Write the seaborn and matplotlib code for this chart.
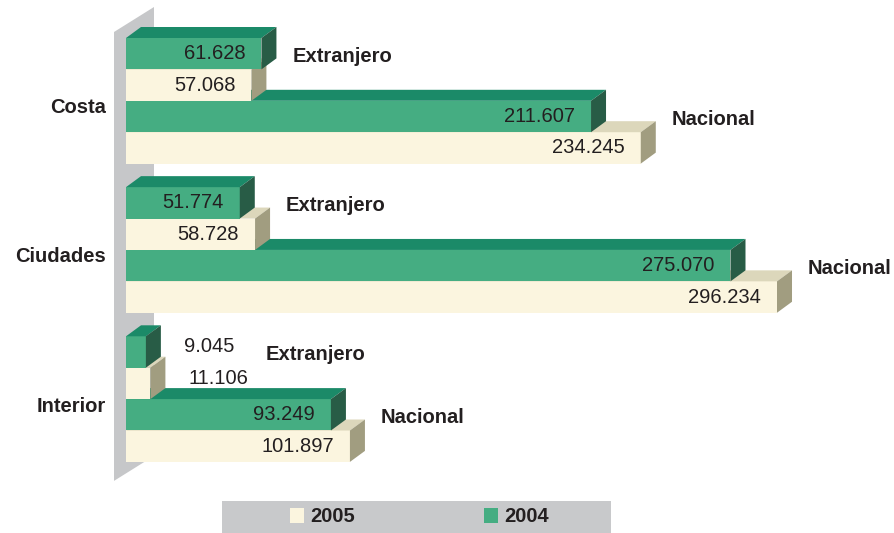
import numpy as np
import pandas as pd
import matplotlib.pyplot as plt
import seaborn as sns
from matplotlib.patches import Polygon, Patch, Rectangle
from matplotlib.transforms import offset_copy

# data (viajeros, los puntos son separador de miles)
categories = ['Costa', 'Ciudades', 'Interior']
origins = ['Extranjero', 'Nacional']
years = ['2004', '2005']
extranjero_2004 = [61628, 51774, 9045]
extranjero_2005 = [57068, 58728, 11106]
nacional_2004 = [211607, 275070, 93249]
nacional_2005 = [234245, 296234, 101897]

front = {'2004': '#45ad82', '2005': '#fbf5df'}
top_col = {'2004': '#1b8a68', '2005': '#dcd7bb'}
side_col = {'2004': '#285c46', '2005': '#a19d80'}
txt = '#231f20'
FS = 14.5
GROUP_STEP = 4.75
DX, DY = 15, 11  # profundidad 3D en pixeles

rows = []
series = [('Extranjero', '2004', extranjero_2004), ('Extranjero', '2005', extranjero_2005),
          ('Nacional', '2004', nacional_2004), ('Nacional', '2005', nacional_2005)]
for g, cat in enumerate(categories):
    for k, (origin, year, vals) in enumerate(series):
        rows.append({'cat': cat, 'origin': origin, 'year': year,
                     'value': vals[g], 'pos': g * GROUP_STEP + k})
df = pd.DataFrame(rows)

sns.set_style('white')
plt.rcParams['font.family'] = ['Liberation Sans', 'DejaVu Sans']

fig = plt.figure(figsize=(8.95, 5.33), dpi=100)
W, H = 895, 533
x0_px = 126
ax = fig.add_axes([x0_px / W, 0, (W - x0_px) / W, 1])

sns.barplot(data=df, x='value', y='pos', hue='year', hue_order=years, palette=front,
            orient='y', native_scale=True, dodge=False, width=1, errorbar=None,
            saturation=1, linewidth=0, legend=False, ax=ax)

px_per_k = 2.1976 / 1000
ax.set_xlim(0, (W - x0_px) / px_per_k)
unit = 31.4
first_c = 53.7
ax.set_ylim((H - first_c) / unit, -first_c / unit)
for s in ax.spines.values():
    s.set_visible(False)
ax.set_xticks([])
ax.set_xlabel('')
ax.set_ylabel('')
ax.set_yticks([g * GROUP_STEP + 1.66 for g in range(len(categories))])
ax.set_yticklabels(categories, fontsize=FS, fontweight='bold', color=txt)
ax.tick_params(axis='y', length=0, pad=14.4)

# conversion pixeles -> datos
o = ax.transData.transform((0, 0))
ppx = ax.transData.transform((1, 0))[0] - o[0]
ppy = ax.transData.transform((0, 1))[1] - o[1]
dx = DX / ppx
dy = DY / ppy

# caras 3D
for p in list(ax.patches):
    yc = p.get_y() + p.get_height() / 2
    row = df.iloc[(df['pos'] - yc).abs().argmin()]
    yr = row['year']
    z = 50 - row['pos']
    p.set_zorder(z)
    x0 = p.get_x()
    x1 = x0 + p.get_width()
    t = min(p.get_y(), p.get_y() + p.get_height())
    b = max(p.get_y(), p.get_y() + p.get_height())
    ax.add_patch(Polygon([(x0, t), (x1, t), (x1 + dx, t + dy), (x0 + dx, t + dy)],
                         closed=True, facecolor=top_col[yr], linewidth=0, zorder=z))
    ax.add_patch(Polygon([(x1, t), (x1 + dx, t + dy), (x1 + dx, b + dy), (x1, b)],
                         closed=True, facecolor=side_col[yr], linewidth=0, zorder=z))

# pared gris
ytop = df['pos'].min() - 0.5
ybot = df['pos'].max() + 0.5
wl, wr = -12 / ppx, 28 / ppx
wy1, wy2 = -6 / ppy, 19 / ppy
wb = 25 / ppy
ax.add_patch(Polygon([(wl, ytop - wy1), (wr, ytop - wy1 + wb), (wr, ybot - wy2 + wb), (wl, ybot - wy2)],
                     closed=True, facecolor='#c6c7c9', linewidth=0, zorder=1, clip_on=False))

# etiquetas de valores
for _, r in df.iterrows():
    lab = f"{r['value']:,}".replace(',', '.')
    if r['value'] < 30000:
        tr = offset_copy(ax.transData, fig=fig, x=DX + 23, y=5, units='dots')
        ax.text(r['value'], r['pos'], lab, transform=tr, ha='left', va='center',
                fontsize=FS, color=txt, zorder=100)
    else:
        tr = offset_copy(ax.transData, fig=fig, x=-16, y=0, units='dots')
        ax.text(r['value'], r['pos'], lab, transform=tr, ha='right', va='center',
                fontsize=FS, color=txt, zorder=100)

# etiquetas Extranjero / Nacional
for (cat, origin), sub in df.groupby(['cat', 'origin'], sort=False):
    xmax = sub['value'].max()
    off = 115 if sub['value'].min() < 30000 else 31
    tr = offset_copy(ax.transData, fig=fig, x=off, y=13, units='dots')
    ax.text(xmax, sub['pos'].mean(), origin, transform=tr, ha='left', va='center',
            fontsize=FS, fontweight='bold', color=txt, zorder=100)

# leyenda
fig.add_artist(Rectangle((222 / W, 0), 389 / W, 32 / H, transform=fig.transFigure,
                         facecolor='#c8c9cb', linewidth=0, zorder=4))
handles = [Patch(facecolor=front['2005'], linewidth=0), Patch(facecolor=front['2004'], linewidth=0)]
leg = fig.legend(handles, ['2005', '2004'], loc='center', bbox_to_anchor=(419.5 / W, 16 / H),
                 ncol=2, frameon=False, prop={'size': FS, 'weight': 'bold'},
                 handlelength=0.7, handleheight=0.7, handletextpad=0.3, columnspacing=6.4,
                 borderpad=0)
leg.set_zorder(6)
for t in leg.get_texts():
    t.set_color(txt)

fig.savefig('out.png', dpi=100)
